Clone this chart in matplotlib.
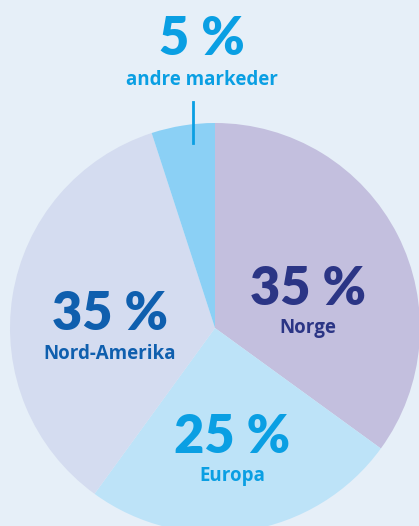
import matplotlib
matplotlib.use("Agg")
import matplotlib.pyplot as plt

# market shares
markets = ["Norge", "Europa", "Nord-Amerika", "andre markeder"]
shares = [35, 25, 35, 5]
pct_labels = ["35 %", "25 %", "35 %", "5 %"]

wedge_colors = ["#c3bfde", "#bde3f8", "#d4dcf0", "#8bd0f5"]
text_colors = ["#2b3585", "#0a9fe3", "#0f5fae", "#0a9fe3"]
bg = "#e6eff8"

W, H = 419, 526
cx, cy, R = 215, 328, 205  # pie centre / radius in pixels

fig = plt.figure(figsize=(W / 100, H / 100), dpi=100, facecolor=bg)
ax = fig.add_axes([0, 0, 1, 1])
ax.set_facecolor(bg)

ax.pie(shares, colors=wedge_colors, startangle=90, counterclock=False,
       radius=1, wedgeprops=dict(linewidth=0))
ax.set_aspect("auto")
ax.set_xlim(-cx / R, (W - cx) / R)
ax.set_ylim(-(H - cy) / R, cy / R)
ax.axis("off")

plt.rcParams["font.family"] = ["Lato", "DejaVu Sans"]


def fy(py):
    return 1 - py / H


# label anchors (pixel centre x, baseline of number, baseline of name)
spots = [(308, 305, 333), (232, 453, 481), (110, 330, 359), (202, 55, 85)]
for name, pct, col, (px, b1, b2) in zip(markets, pct_labels, text_colors, spots):
    fig.text(px / W, fy(b1), pct, ha="center", va="baseline",
             fontsize=37.5, fontweight="heavy", color=col)
    fig.text(px / W, fy(b2), name, ha="center", va="baseline",
             family=["Open Sans", "DejaVu Sans"],
             fontsize=13.5, fontweight="bold", color=col)

# leader line for the small slice
fig.add_artist(plt.Line2D([193 / W, 193 / W], [fy(102), fy(143)],
                          color="#0a9fe3", linewidth=2))

fig.savefig("out.png", dpi=100, facecolor=bg)
